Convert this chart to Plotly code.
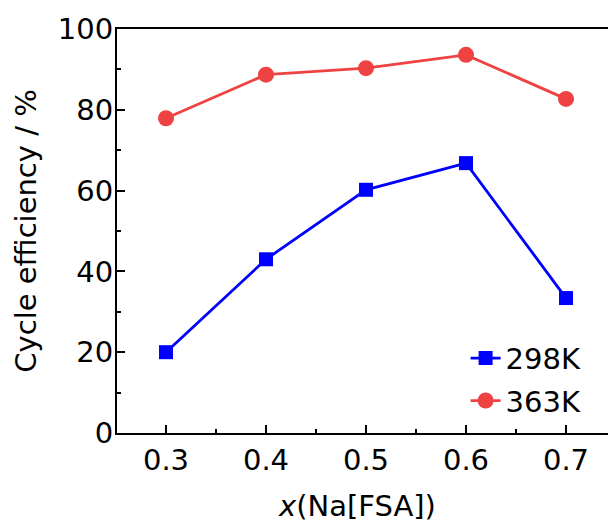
import plotly.graph_objects as go

x_vals = [0.3, 0.4, 0.5, 0.6, 0.7]
eff_298 = [20.0, 43.0, 60.2, 66.8, 33.4]
eff_363 = [77.9, 88.7, 90.3, 93.6, 82.7]
series_names = ["298K", "363K"]
x_ticks = [0.3, 0.4, 0.5, 0.6, 0.7]
y_ticks = [0, 20, 40, 60, 80, 100]

FONT = "DejaVu Sans, Liberation Sans, Arial, sans-serif"
FS = 29
RED = "#EF4242"
BLUE = "#0000FF"

fig = go.Figure()
fig.add_trace(go.Scatter(
    x=x_vals, y=eff_298, name=series_names[0], mode="lines+markers",
    line=dict(color=BLUE, width=2.8),
    marker=dict(symbol="square", size=14, color=BLUE),
    legend="legend",
))
fig.add_trace(go.Scatter(
    x=x_vals, y=eff_363, name=series_names[1], mode="lines+markers",
    line=dict(color=RED, width=2.8),
    marker=dict(symbol="circle", size=16, color=RED),
    legend="legend2",
))

leg_common = dict(xanchor="left", yanchor="middle", bgcolor="rgba(0,0,0,0)",
                  font=dict(size=FS), itemwidth=30, borderwidth=0)

fig.update_layout(
    width=608, height=523,
    margin=dict(l=117, r=0, t=29, b=90, autoexpand=False),
    paper_bgcolor="white", plot_bgcolor="white",
    font=dict(family=FONT, size=FS, color="black"),
    legend=dict(x=0.71, y=0.185, **leg_common),
    legend2=dict(x=0.71, y=0.08, **leg_common),
    xaxis=dict(
        range=[0.251, 0.742], tickvals=x_ticks,
        ticktext=[f"{v:.1f}" for v in x_ticks],
        ticks="inside", ticklen=8, tickwidth=1.5, tickcolor="black",
        showline=True, linewidth=2, linecolor="black", mirror=True,
        showgrid=False, zeroline=False,
        minor=dict(ticks="inside", ticklen=4, tickwidth=1.5, tickcolor="black", dtick=0.05),
    ),
    yaxis=dict(
        range=[0, 100], tickvals=y_ticks,
        ticks="inside", ticklen=8, tickwidth=1.5, tickcolor="black",
        showline=True, linewidth=2, linecolor="black", mirror=False,
        showgrid=False, zeroline=False, ticklabelstandoff=-4,
        minor=dict(ticks="inside", ticklen=4, tickwidth=1.5, tickcolor="black", dtick=10),
        title=dict(text="Cycle efficiency / %", font=dict(size=FS), standoff=13),
    ),
    annotations=[dict(
        text="<i>x</i>(Na[FSA])", xref="paper", yref="paper",
        x=0.489, y=-0.181, xanchor="center", yanchor="middle",
        showarrow=False, font=dict(size=FS, family=FONT, color="black"),
    )],
    showlegend=True,
)

fig.write_html("out.html", config={"displayModeBar": False},
               post_script="document.body.style.margin='0';document.body.style.overflow='hidden';")
